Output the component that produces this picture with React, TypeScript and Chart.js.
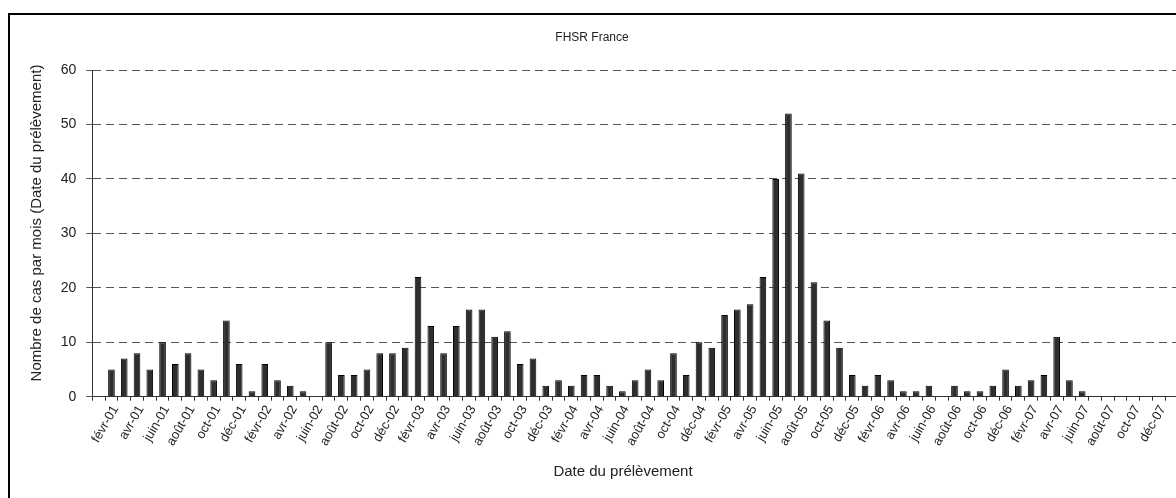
import React, { useEffect, useRef } from "react";
import { Chart, registerables } from "chart.js";

Chart.register(...registerables);

// Monthly categories (janv-01 .. déc-07, plus the empty janv-08 slot at the right edge)
const categories = [
  "janv-01", "févr-01", "mars-01", "avr-01", "mai-01", "juin-01", "juil-01", "août-01", "sept-01", "oct-01", "nov-01", "déc-01",
  "janv-02", "févr-02", "mars-02", "avr-02", "mai-02", "juin-02", "juil-02", "août-02", "sept-02", "oct-02", "nov-02", "déc-02",
  "janv-03", "févr-03", "mars-03", "avr-03", "mai-03", "juin-03", "juil-03", "août-03", "sept-03", "oct-03", "nov-03", "déc-03",
  "janv-04", "févr-04", "mars-04", "avr-04", "mai-04", "juin-04", "juil-04", "août-04", "sept-04", "oct-04", "nov-04", "déc-04",
  "janv-05", "févr-05", "mars-05", "avr-05", "mai-05", "juin-05", "juil-05", "août-05", "sept-05", "oct-05", "nov-05", "déc-05",
  "janv-06", "févr-06", "mars-06", "avr-06", "mai-06", "juin-06", "juil-06", "août-06", "sept-06", "oct-06", "nov-06", "déc-06",
  "janv-07", "févr-07", "mars-07", "avr-07", "mai-07", "juin-07", "juil-07", "août-07", "sept-07", "oct-07", "nov-07", "déc-07",
  "janv-08",
];

const cases2001 = [0, 5, 7, 8, 5, 10, 6, 8, 5, 3, 14, 6];
const cases2002 = [1, 6, 3, 2, 1, 0, 10, 4, 4, 5, 8, 8];
const cases2003 = [9, 22, 13, 8, 13, 16, 16, 11, 12, 6, 7, 2];
const cases2004 = [3, 2, 4, 4, 2, 1, 3, 5, 3, 8, 4, 10];
const cases2005 = [9, 15, 16, 17, 22, 40, 52, 41, 21, 14, 9, 4];
const cases2006 = [2, 4, 3, 1, 1, 2, 0, 2, 1, 1, 2, 5];
const cases2007 = [2, 3, 4, 11, 3, 1, 0, 0, 0, 0, 0, 0];
const cases2008 = [0];

const yTicks = [0, 10, 20, 30, 40, 50, 60];

const chartTitle = "FHSR France";
const xTitle = "Date du prélèvement";
const yTitle = "Nombre de cas par mois (Date du prélèvement)";

const FONT = "'Liberation Sans', Arial, sans-serif";
const CANVAS_W = 1190;
const CANVAS_H = 500;

export default function App() {
  const ref = useRef<HTMLCanvasElement | null>(null);

  useEffect(() => {
    if (!ref.current) return;
    const values = [
      ...cases2001, ...cases2002, ...cases2003, ...cases2004,
      ...cases2005, ...cases2006, ...cases2007, ...cases2008,
    ];

    const titlesPlugin = {
      id: "titles",
      afterDraw(chart: any) {
        const ctx = chart.ctx;
        ctx.save();
        ctx.fillStyle = "#222";
        ctx.textAlign = "center";
        ctx.textBaseline = "middle";
        ctx.font = `12px ${FONT}`;
        ctx.fillText(chartTitle, 582, 23);
        ctx.font = `15px ${FONT}`;
        ctx.fillText(xTitle, 613, 457);
        ctx.translate(27, 208);
        ctx.rotate(-Math.PI / 2);
        ctx.fillText(yTitle, 0, 0);
        ctx.restore();
      },
    };

    const chart = new Chart(ref.current, {
      type: "bar",
      data: {
        labels: categories,
        datasets: [
          {
            data: values,
            backgroundColor: "#2e2e2e",
            borderColor: "#000000",
            borderWidth: 1,
            barPercentage: 0.52,
            categoryPercentage: 1,
          },
        ],
      },
      options: {
        responsive: false,
        animation: false,
        layout: { padding: { left: 0, top: 55, right: 22, bottom: 0 } },
        plugins: {
          legend: { display: false },
          tooltip: { enabled: false },
          title: { display: false },
        },
        scales: {
          x: {
            type: "category",
            offset: true,
            grid: {
              display: true,
              drawOnChartArea: false,
              drawTicks: true,
              tickLength: 4,
              color: "#333",
              offset: true,
            },
            border: { display: true, color: "#333", width: 1 },
            ticks: {
              autoSkip: false,
              maxRotation: 60,
              minRotation: 60,
              padding: 2,
              labelOffset: 4,
              color: "#222",
              font: { family: FONT, size: 13 },
              callback: (_v: any, i: number) => (i % 2 === 1 ? categories[i] : ""),
            },
            afterFit: (scale: any) => {
              scale.height = CANVAS_H - 381.7;
            },
          },
          y: {
            min: yTicks[0],
            max: yTicks[yTicks.length - 1],
            afterBuildTicks: (scale: any) => {
              scale.ticks = yTicks.map((v) => ({ value: v }));
            },
            grid: {
              color: "#555",
              lineWidth: 1,
              tickLength: 6,
            },
            border: { display: true, color: "#333", width: 1, dash: [8, 5] },
            ticks: {
              padding: 10,
              color: "#222",
              font: { family: FONT, size: 14 },
            },
            afterFit: (scale: any) => {
              scale.width = 82.3;
            },
          },
        },
      },
      plugins: [titlesPlugin],
    });

    return () => chart.destroy();
  }, []);

  return (
    <div
      style={{
        position: "fixed",
        left: 0,
        top: 0,
        width: 1176,
        height: 498,
        overflow: "hidden",
        background: "#fff",
      }}
    >
      <div
        style={{
          position: "absolute",
          left: 8,
          top: 13,
          width: CANVAS_W + 4,
          height: CANVAS_H + 4,
          border: "2px solid #000",
          boxSizing: "border-box",
        }}
      >
        <canvas
          ref={ref}
          width={CANVAS_W}
          height={CANVAS_H}
          style={{ display: "block", width: CANVAS_W, height: CANVAS_H }}
        />
      </div>
    </div>
  );
}
